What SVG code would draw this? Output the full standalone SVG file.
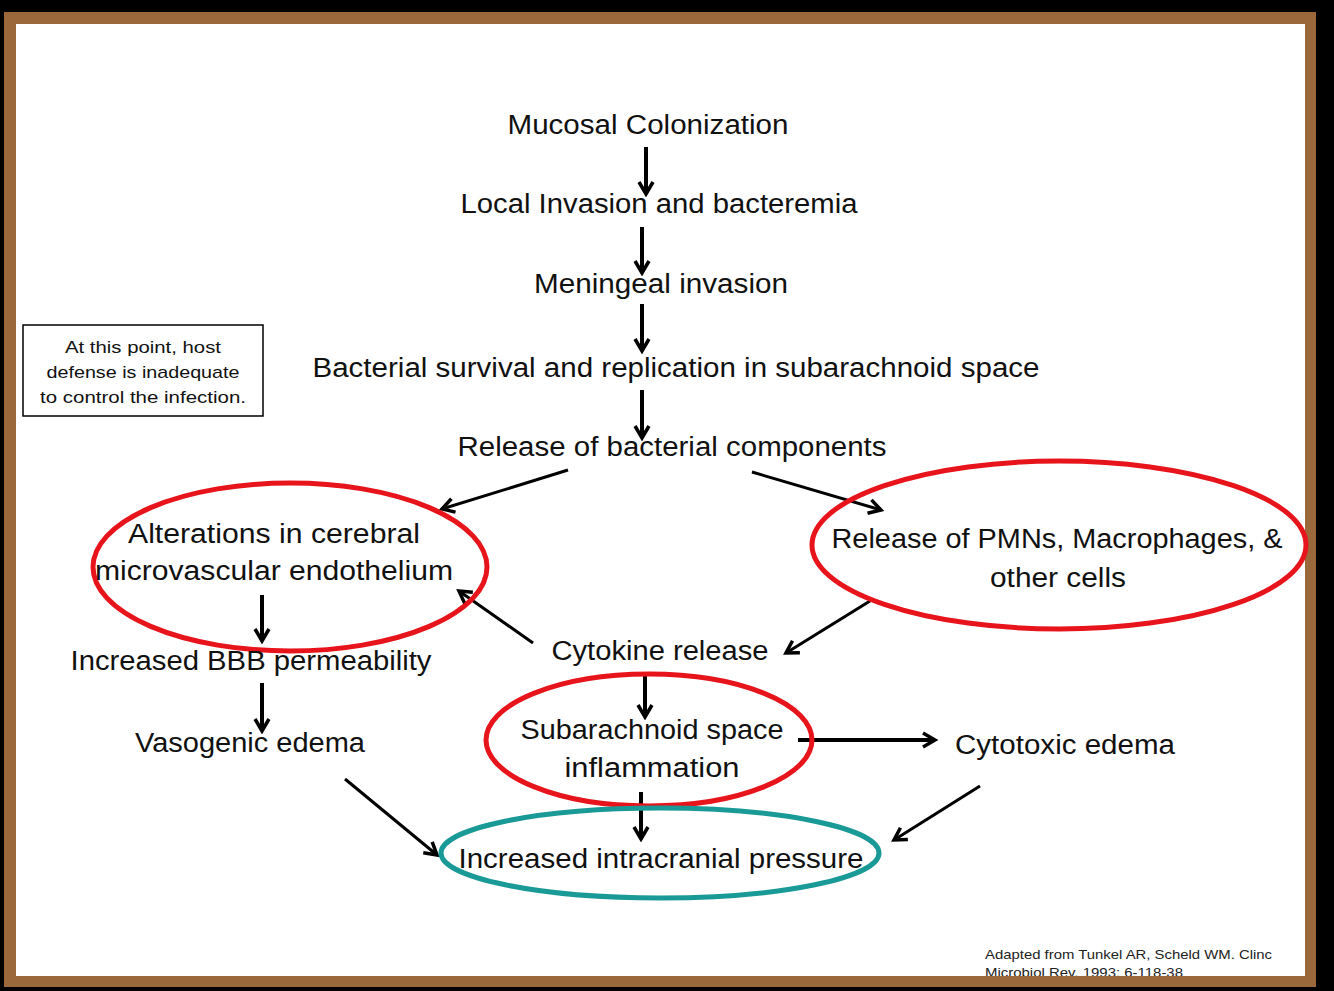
<svg xmlns="http://www.w3.org/2000/svg" width="1334" height="991" viewBox="0 0 1334 991">
<defs>
<style>
.t{font-family:"Liberation Sans","Open Sans",sans-serif;font-size:27px;fill:#111;text-anchor:middle}
.s{font-family:"Liberation Sans","Open Sans",sans-serif;font-size:17px;fill:#111;text-anchor:middle}
.c{font-family:"Liberation Sans","Open Sans",sans-serif;font-size:13.5px;fill:#222}
.a{stroke:#000;stroke-width:4;fill:none;marker-end:url(#ah)}
.d{stroke:#000;stroke-width:3;fill:none;marker-end:url(#ah)}
.r{fill:none;stroke:#e8141c;stroke-width:5}
.g{fill:none;stroke:#1a9a96;stroke-width:5}
</style>
<marker id="ah" viewBox="0 0 20 20" refX="17" refY="10" markerWidth="20" markerHeight="20" markerUnits="userSpaceOnUse" orient="auto">
<path d="M5,3 L17,10 L5,17" stroke="#000" stroke-width="3.5" fill="none"/>
</marker>
</defs>
<rect x="0" y="0" width="1334" height="991" fill="#000"/>
<rect x="4" y="12" width="1312" height="975" fill="#fff"/>
<g id="citation">
<text class="c" x="985" y="959" textLength="287" lengthAdjust="spacingAndGlyphs">Adapted from Tunkel AR, Scheld WM.  Clinc</text>
<text class="c" x="985" y="977" textLength="198" lengthAdjust="spacingAndGlyphs">Microbiol Rev. 1993; 6-118-38</text>
</g>
<path d="M4,12 H1316 V987 H4 Z M16,24 V976 H1305 V24 Z" fill="#9a683a" fill-rule="evenodd"/>

<g id="connectors">
<line class="a" x1="646" y1="147" x2="646" y2="194"/>
<line class="a" x1="642" y1="227" x2="642" y2="273"/>
<line class="a" x1="642" y1="304" x2="642" y2="351"/>
<line class="a" x1="642" y1="390" x2="642" y2="438"/>
<line class="a" x1="262" y1="595" x2="262" y2="641"/>
<line class="a" x1="262" y1="683" x2="262" y2="731"/>
<line class="a" x1="645" y1="672" x2="645" y2="717"/>
<line class="a" x1="641" y1="792" x2="641" y2="839"/>
<line class="d" x1="568" y1="470" x2="442" y2="509"/>
<line class="d" x1="752" y1="472" x2="881" y2="510"/>
<line class="d" x1="533" y1="643" x2="459" y2="591"/>
<line class="d" x1="870" y1="601" x2="786" y2="653"/>
<line class="a" x1="798" y1="740" x2="935" y2="740"/>
<line class="d" x1="345" y1="779" x2="437" y2="855"/>
<line class="d" x1="980" y1="786" x2="894" y2="840"/>
</g>

<g id="n1"><text class="t" x="648" y="134" textLength="281" lengthAdjust="spacingAndGlyphs">Mucosal Colonization</text></g>
<g id="n2"><text class="t" x="659" y="213" textLength="397" lengthAdjust="spacingAndGlyphs">Local Invasion and bacteremia</text></g>
<g id="n3"><text class="t" x="661" y="293" textLength="254" lengthAdjust="spacingAndGlyphs">Meningeal invasion</text></g>
<g id="n4"><text class="t" x="676" y="377" textLength="727" lengthAdjust="spacingAndGlyphs">Bacterial survival and replication in subarachnoid space</text></g>
<g id="n5"><text class="t" x="672" y="456" textLength="429" lengthAdjust="spacingAndGlyphs">Release of bacterial components</text></g>
<g id="n6">
<ellipse class="r" cx="290" cy="567" rx="197" ry="84"/>
<text class="t" x="274" y="543" textLength="292" lengthAdjust="spacingAndGlyphs">Alterations in cerebral</text>
<text class="t" x="274" y="580" textLength="358" lengthAdjust="spacingAndGlyphs">microvascular endothelium</text>
</g>
<g id="n7">
<ellipse class="r" cx="1059" cy="545" rx="247" ry="84"/>
<text class="t" x="1057" y="548" textLength="451" lengthAdjust="spacingAndGlyphs">Release of PMNs, Macrophages, &amp;</text>
<text class="t" x="1058" y="587" textLength="136" lengthAdjust="spacingAndGlyphs">other cells</text>
</g>
<g id="n8"><text class="t" x="660" y="660" textLength="217" lengthAdjust="spacingAndGlyphs">Cytokine release</text></g>
<g id="n9"><text class="t" x="251" y="670" textLength="361" lengthAdjust="spacingAndGlyphs">Increased BBB permeability</text></g>
<g id="n10"><text class="t" x="250" y="752" textLength="230" lengthAdjust="spacingAndGlyphs">Vasogenic edema</text></g>
<g id="n11">
<ellipse class="r" cx="649" cy="740" rx="163" ry="66"/>
<text class="t" x="652" y="739" textLength="263" lengthAdjust="spacingAndGlyphs">Subarachnoid space</text>
<text class="t" x="652" y="777" textLength="175" lengthAdjust="spacingAndGlyphs">inflammation</text>
</g>
<g id="n12"><text class="t" x="1065" y="754" textLength="220" lengthAdjust="spacingAndGlyphs">Cytotoxic edema</text></g>
<g id="n13">
<ellipse class="g" cx="660" cy="853" rx="219" ry="45"/>
<text class="t" x="661" y="868" textLength="405" lengthAdjust="spacingAndGlyphs">Increased intracranial pressure</text>
</g>
<g id="note">
<rect x="23" y="325" width="240" height="91" fill="#fff" stroke="#000" stroke-width="1.5"/>
<text class="s" x="143" y="353" textLength="156" lengthAdjust="spacingAndGlyphs">At this point, host</text>
<text class="s" x="143" y="378" textLength="193" lengthAdjust="spacingAndGlyphs">defense is inadequate</text>
<text class="s" x="143" y="403" textLength="206" lengthAdjust="spacingAndGlyphs">to control the infection.</text>
</g>
</svg>
